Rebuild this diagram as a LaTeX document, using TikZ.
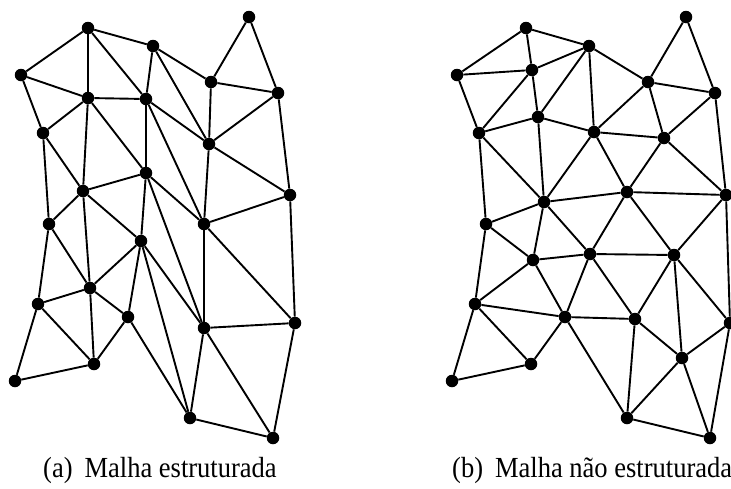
\documentclass[tikz,border=0pt]{standalone}
\usepackage{fontspec}
\usepackage{graphicx}
\setmainfont{Liberation Serif}
\begin{document}
\begin{tikzpicture}[x=1pt,y=-1pt,
  dot/.style={circle,fill=black,inner sep=0pt,minimum size=12.5pt},
  edge/.style={line width=1.9pt,black},
  captext/.style={anchor=base west,inner sep=0pt,font=\fontsize{26}{30}\selectfont}]
\useasboundingbox (0,0) rectangle (731,488);
% mesh (a)
\foreach \n/\x/\y in {a1/88/28,a2/21/75,a3/153/46,a4/88/98,a5/146/99,a6/43/133,a7/146/173,a8/83/191,a9/249/17,a10/211/82,a11/278/93,a12/209/144,a13/290/195,a14/204/224,a15/49/224,a16/141/241,a17/90/288,a18/38/304,a19/128/317,a20/94/364,a21/15/381,a22/295/323,a23/204/328,a24/190/418,a25/273/438}
  \node[dot] (\n) at (\x,\y) {};
\foreach \p/\q in {a1/a2,a1/a3,a1/a4,a1/a5,a2/a4,a2/a6,a3/a5,a3/a10,a3/a12,a4/a5,a4/a6,a4/a7,a4/a8,a5/a7,a5/a12,a5/a14,a6/a8,a6/a15,a7/a8,a7/a14,a7/a16,a7/a23,a8/a15,a8/a16,a8/a17,a9/a10,a9/a11,a10/a11,a10/a12,a11/a12,a11/a13,a12/a13,a12/a14,a13/a14,a13/a22,a14/a22,a14/a23,a15/a17,a15/a18,a16/a17,a16/a19,a16/a23,a16/a24,a17/a18,a17/a19,a17/a20,a18/a20,a18/a21,a19/a20,a19/a24,a20/a21,a22/a23,a22/a25,a23/a24,a23/a25,a24/a25}
  \draw[edge] (\p) -- (\q);
% mesh (b)
\foreach \n/\x/\y in {b1/526/28,b2/457/75,b3/532/70,b4/589/46,b5/479/133,b6/538/117,b7/544/202,b8/594/132,b9/686/17,b10/648/82,b11/715/93,b12/664/138,b13/627/192,b14/726/195,b15/486/224,b17/533/260,b18/590/254,b19/475/304,b20/565/317,b21/531/364,b22/452/381,b23/674/255,b24/635/319,b25/730/323,b26/682/358,b27/627/418,b28/710/438}
  \node[dot] (\n) at (\x,\y) {};
\foreach \p/\q in {b1/b2,b1/b3,b1/b4,b2/b3,b2/b5,b3/b4,b3/b5,b3/b6,b4/b6,b4/b8,b4/b10,b5/b6,b5/b7,b5/b15,b6/b7,b6/b8,b7/b8,b7/b13,b7/b15,b7/b17,b7/b18,b8/b10,b8/b12,b8/b13,b9/b10,b9/b11,b10/b11,b10/b12,b11/b12,b11/b14,b12/b13,b12/b14,b13/b14,b13/b18,b13/b23,b14/b23,b14/b25,b15/b17,b15/b19,b17/b18,b17/b19,b17/b20,b18/b20,b18/b23,b18/b24,b19/b20,b19/b21,b19/b22,b20/b21,b20/b24,b20/b27,b21/b22,b23/b24,b23/b25,b23/b26,b24/b26,b24/b27,b25/b26,b25/b28,b26/b27,b26/b28,b27/b28}
  \draw[edge] (\p) -- (\q);
% captions
\node[captext] (capa) at (43,477) {\scalebox{1.02}[1.12]{(a)\hspace{0.45em}Malha estruturada}};
\node[captext] (capb) at (452,477) {\scalebox{1.02}[1.12]{(b)\hspace{0.45em}Malha não estruturada}};
\end{tikzpicture}
\end{document}
